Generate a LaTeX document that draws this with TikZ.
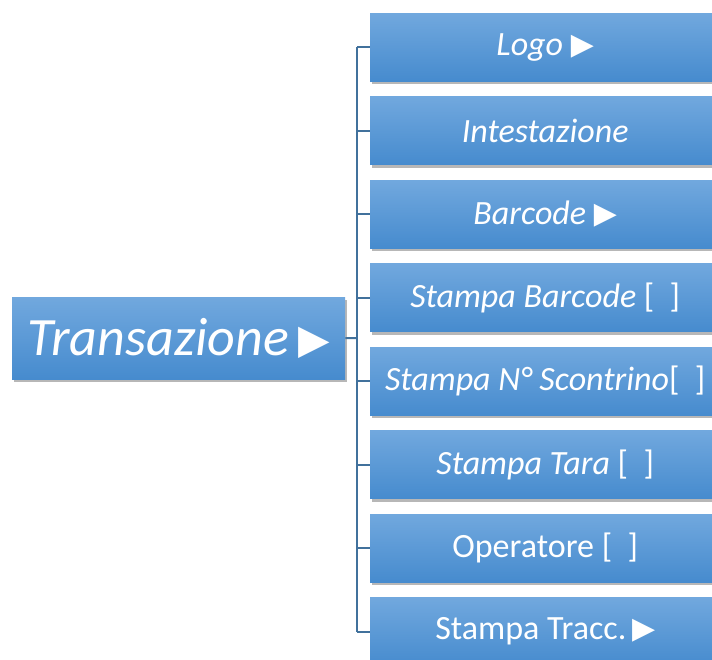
\documentclass[tikz,border=0pt]{standalone}
\usepackage{fontspec}
\setmainfont{Carlito}
\newfontfamily\symfont{DejaVu Sans}
\usetikzlibrary{shadows}
\definecolor{boxtop}{RGB}{113,168,222}
\definecolor{boxbot}{RGB}{70,139,206}
\definecolor{conn}{RGB}{65,113,156}
\newcommand{\trism}{\raisebox{1pt}{\symfont\fontsize{30}{30}\selectfont ▶}}
\newcommand{\tribig}{\raisebox{2pt}{\symfont\fontsize{41}{41}\selectfont ▶}}
\begin{document}
\begin{tikzpicture}[x=1pt,y=-1pt,
  boxstyle/.style={rectangle, draw=none, top color=boxtop, bottom color=boxbot,
    text=white, inner sep=0pt, anchor=north west,
    drop shadow={shadow xshift=2pt, shadow yshift=-3pt, opacity=0.4, fill=black!70}},
  childbox/.style={boxstyle, minimum width=350pt, minimum height=68pt,
    font=\fontsize{34}{34}\selectfont},
  rootbox/.style={boxstyle, minimum width=333pt, minimum height=82pt,
    font=\fontsize{54}{54}\selectfont},
  connline/.style={draw=conn, line width=2pt}]
\useasboundingbox (0,0) rectangle (712,660);
\clip (0,0) rectangle (712,660);
\fill[white] (0,0) rectangle (712,660);

\node[rootbox] (root) at (12,297) {\itshape Transazione\,\tribig};

\node[childbox] (c1) at (370,13)    {\itshape Logo \trism};
\node[childbox] (c2) at (370,96.5)  {\itshape Intestazione};
\node[childbox] (c3) at (370,180)   {\itshape Barcode \trism};
\node[childbox] (c4) at (370,263.5) {\itshape Stampa Barcode \upshape[\ \ ]};
\node[childbox] (c5) at (370,347)   {\itshape Stampa N° Scontrino\upshape[\ \ ]};
\node[childbox] (c6) at (370,430.5) {\itshape Stampa Tara \upshape[\ \ ]};
\node[childbox] (c7) at (370,514)   {Operatore [\ \ ]};
\node[childbox] (c8) at (370,597.5) {Stampa Tracc.\,\trism};

\coordinate (bus) at (357,338);
\draw[connline] (root.east) -- (bus);
\draw[connline] (bus |- c1.west) -- (bus |- c8.west);
\foreach \c in {c1,c2,c3,c4,c5,c6,c7,c8}
  \draw[connline] (bus |- \c.west) -- (\c.west);
\end{tikzpicture}
\end{document}
